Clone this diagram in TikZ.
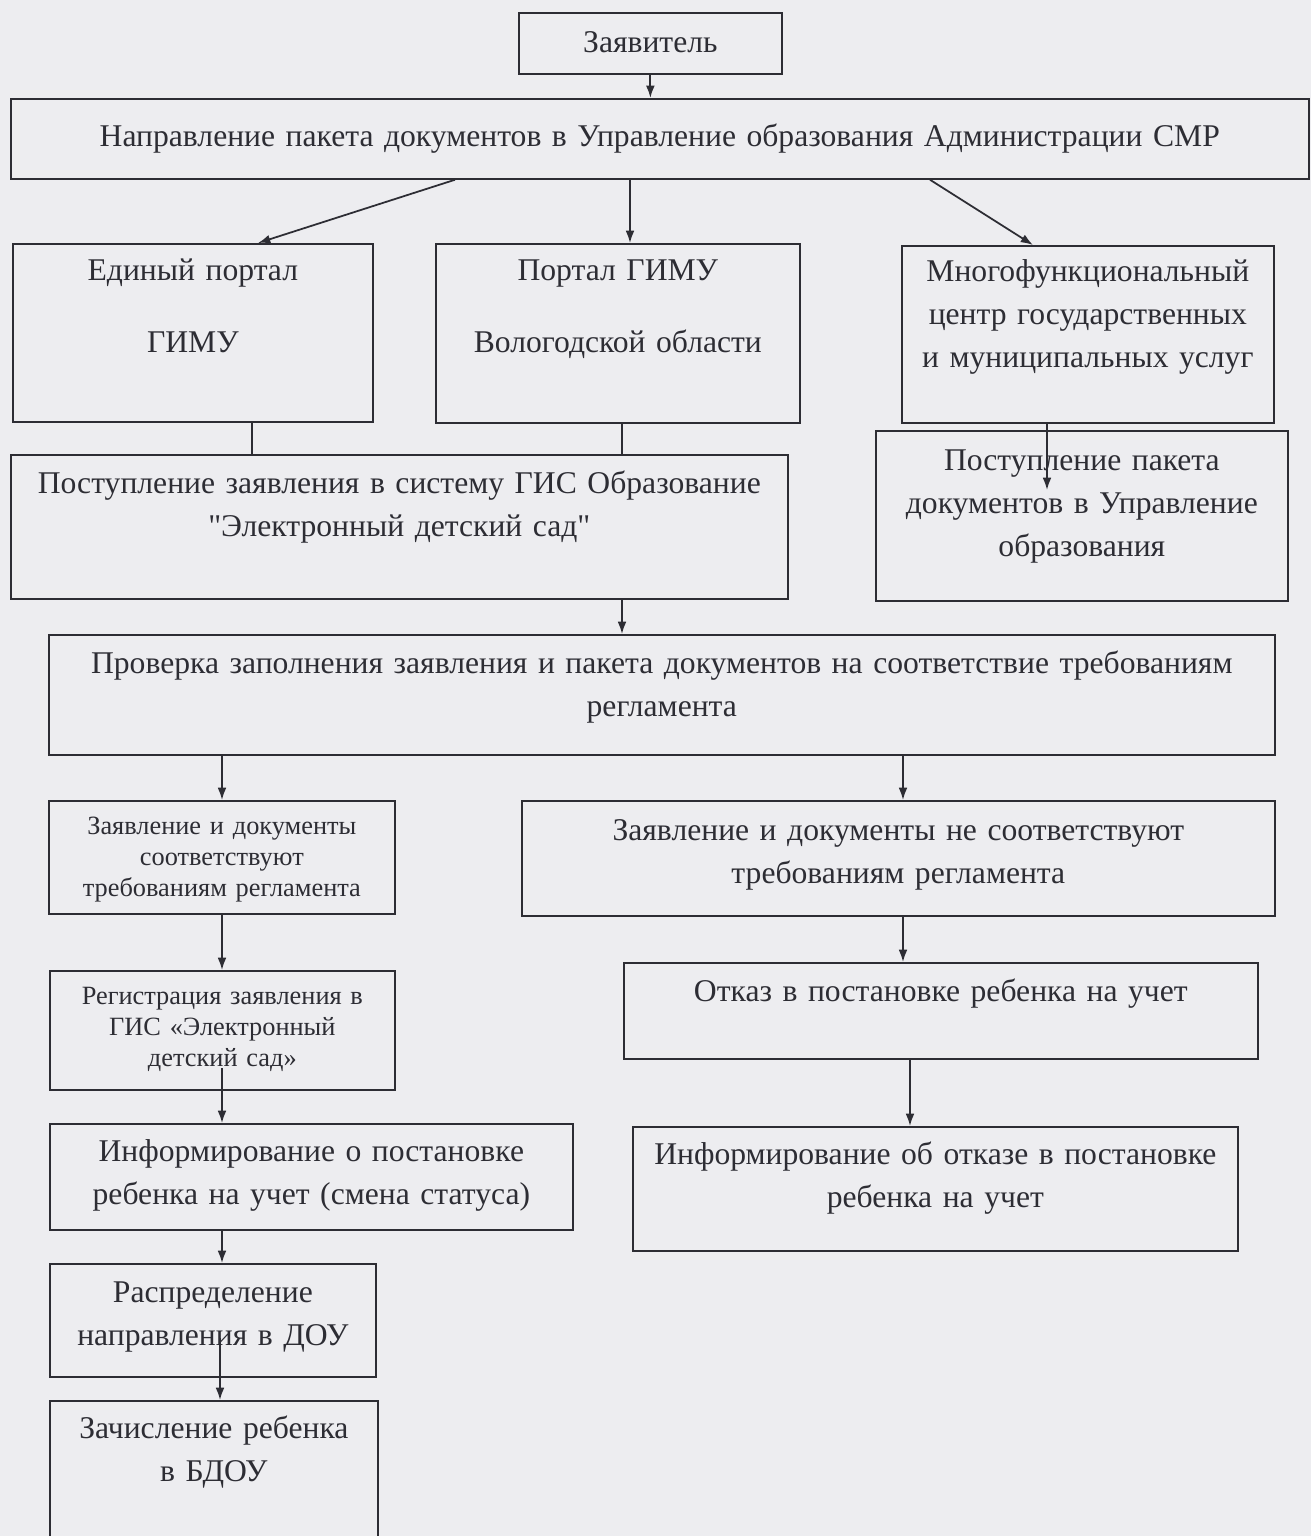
\documentclass[tikz,border=0pt]{standalone}
\usepackage{fontspec}
\setmainfont{Liberation Serif}
\usetikzlibrary{positioning,calc,arrows.meta}
\newdimen\pxu \pxu=0.5691pt
\definecolor{scanbg}{RGB}{237,237,240}
\definecolor{ink}{RGB}{45,45,52}

\begin{document}
\begin{tikzpicture}[x=0.02cm,y=-0.02cm,->,>={Latex[length=7pt,width=5pt]},color=ink,line width=1pt,
  blk/.style={draw, anchor=north west, inner sep=0pt, align=center,
    font=\fontsize{18}{24.5}\selectfont},
  sml/.style={font=\fontsize{15}{17.5}\selectfont}]
  \useasboundingbox (0,0) rectangle (1311,1536);
  \clip (0,0) rectangle (1311,1536);
  \fill[scanbg] (0,0) rectangle (1311,1536);

  % top
  \node (zayav) [blk, text width=263\pxu, text height=40\pxu, text depth=21\pxu] at (518,12) {Заявитель};
  \node (napr) [blk, text width=1298\pxu, text height=48\pxu, text depth=32\pxu] at (10,98)
    {Направление пакета документов в Управление образования Администрации СМР};

  % three ways
  \node (edin) [blk, text width=360\pxu, text height=37\pxu, text depth=141\pxu] at (12,243)
    {Единый портал\\[16pt]ГИМУ};
  \node (portal) [blk, text width=364\pxu, text height=37\pxu, text depth=142\pxu] at (435,243)
    {Портал ГИМУ\\[16pt]Вологодской области};
  \node (mfc) [blk, text width=372\pxu, text height=36\pxu, text depth=141\pxu] at (901,245)
    {Многофункциональный\\центр государственных\\и муниципальных услуг};

  \node (postz) [blk, text width=777\pxu, text height=39\pxu, text depth=105\pxu] at (10,454)
    {Поступление заявления в систему ГИС Образование\\\textquotedbl Электронный детский сад\textquotedbl};
  \node (postp) [blk, text width=412\pxu, text height=40\pxu, text depth=130\pxu] at (875,430)
    {Поступление пакета\\документов в Управление\\образования};

  \node (prov) [blk, text width=1226\pxu, text height=39\pxu, text depth=81\pxu] at (48,634)
    {Проверка заполнения заявления и пакета документов на соответствие требованиям\\регламента};

  % left branch
  \node (sootv) [blk, sml, text width=346\pxu, text height=34\pxu, text depth=79\pxu] at (48,800)
    {Заявление и документы\\соответствуют\\требованиям регламента};
  \node (reg) [blk, sml, text width=345\pxu, text height=34\pxu, text depth=85\pxu] at (49,970)
    {Регистрация заявления в\\ГИС «Электронный\\детский сад»};
  \node (inf1) [blk, text width=523\pxu, text height=38\pxu, text depth=68\pxu] at (49,1123)
    {Информирование о постановке\\ребенка на учет (смена статуса)};
  \node (raspr) [blk, text width=326\pxu, text height=39\pxu, text depth=74\pxu] at (49,1263)
    {Распределение\\направления в ДОУ};
  \node (zach) [blk, text width=328\pxu, text height=38\pxu, text depth=107\pxu] at (49,1400)
    {Зачисление ребенка\\в БДОУ};

  % right branch
  \node (nesootv) [blk, text width=753\pxu, text height=40\pxu, text depth=75\pxu] at (521,800)
    {Заявление и документы не соответствуют\\требованиям регламента};
  \node (otkaz) [blk, text width=634\pxu, text height=39\pxu, text depth=57\pxu] at (623,962)
    {Отказ в постановке ребенка на учет};
  \node (inf2) [blk, text width=605\pxu, text height=38\pxu, text depth=86\pxu] at (632,1126)
    {Информирование об отказе в постановке\\ребенка на учет};

  % connectors
  \draw (zayav.south) -- (zayav.south |- napr.north);
  \draw ($(napr.south west)+(445,0)$) -- ($(edin.north west)+(246,0)$);
  \draw ($(napr.south west)+(620,0)$) -- ($(portal.north west)+(195,0)$);
  \draw ($(napr.south west)+(920,0)$) -- ($(mfc.north west)+(132,0)$);
  \draw[-] ($(edin.south west)+(240,0)$) -- ($(postz.north west)+(242,0)$);
  \draw[-] ($(portal.south west)+(187,0)$) -- ($(postz.north west)+(612,0)$);
  \draw ($(mfc.south west)+(146,0)$) -- ($(postp.north west)+(172,60)$);
  \draw ($(postz.south west)+(612,0)$) -- ($(prov.north west)+(574,0)$);
  \draw ($(prov.south west)+(174,0)$) -- ($(sootv.north west)+(174,0)$);
  \draw ($(prov.south west)+(855,0)$) -- ($(nesootv.north west)+(382,0)$);
  \draw ($(sootv.south west)+(174,0)$) -- ($(reg.north west)+(173,0)$);
  \draw ($(nesootv.south west)+(382,0)$) -- ($(otkaz.north west)+(280,0)$);
  \draw ($(reg.north west)+(173,98)$) -- ($(inf1.north west)+(173,0)$);
  \draw ($(otkaz.south west)+(287,0)$) -- ($(inf2.north west)+(278,0)$);
  \draw ($(inf1.south west)+(173,0)$) -- ($(raspr.north west)+(173,0)$);
  \draw ($(raspr.north west)+(171,75)$) -- ($(zach.north west)+(171,0)$);
\end{tikzpicture}
\end{document}
